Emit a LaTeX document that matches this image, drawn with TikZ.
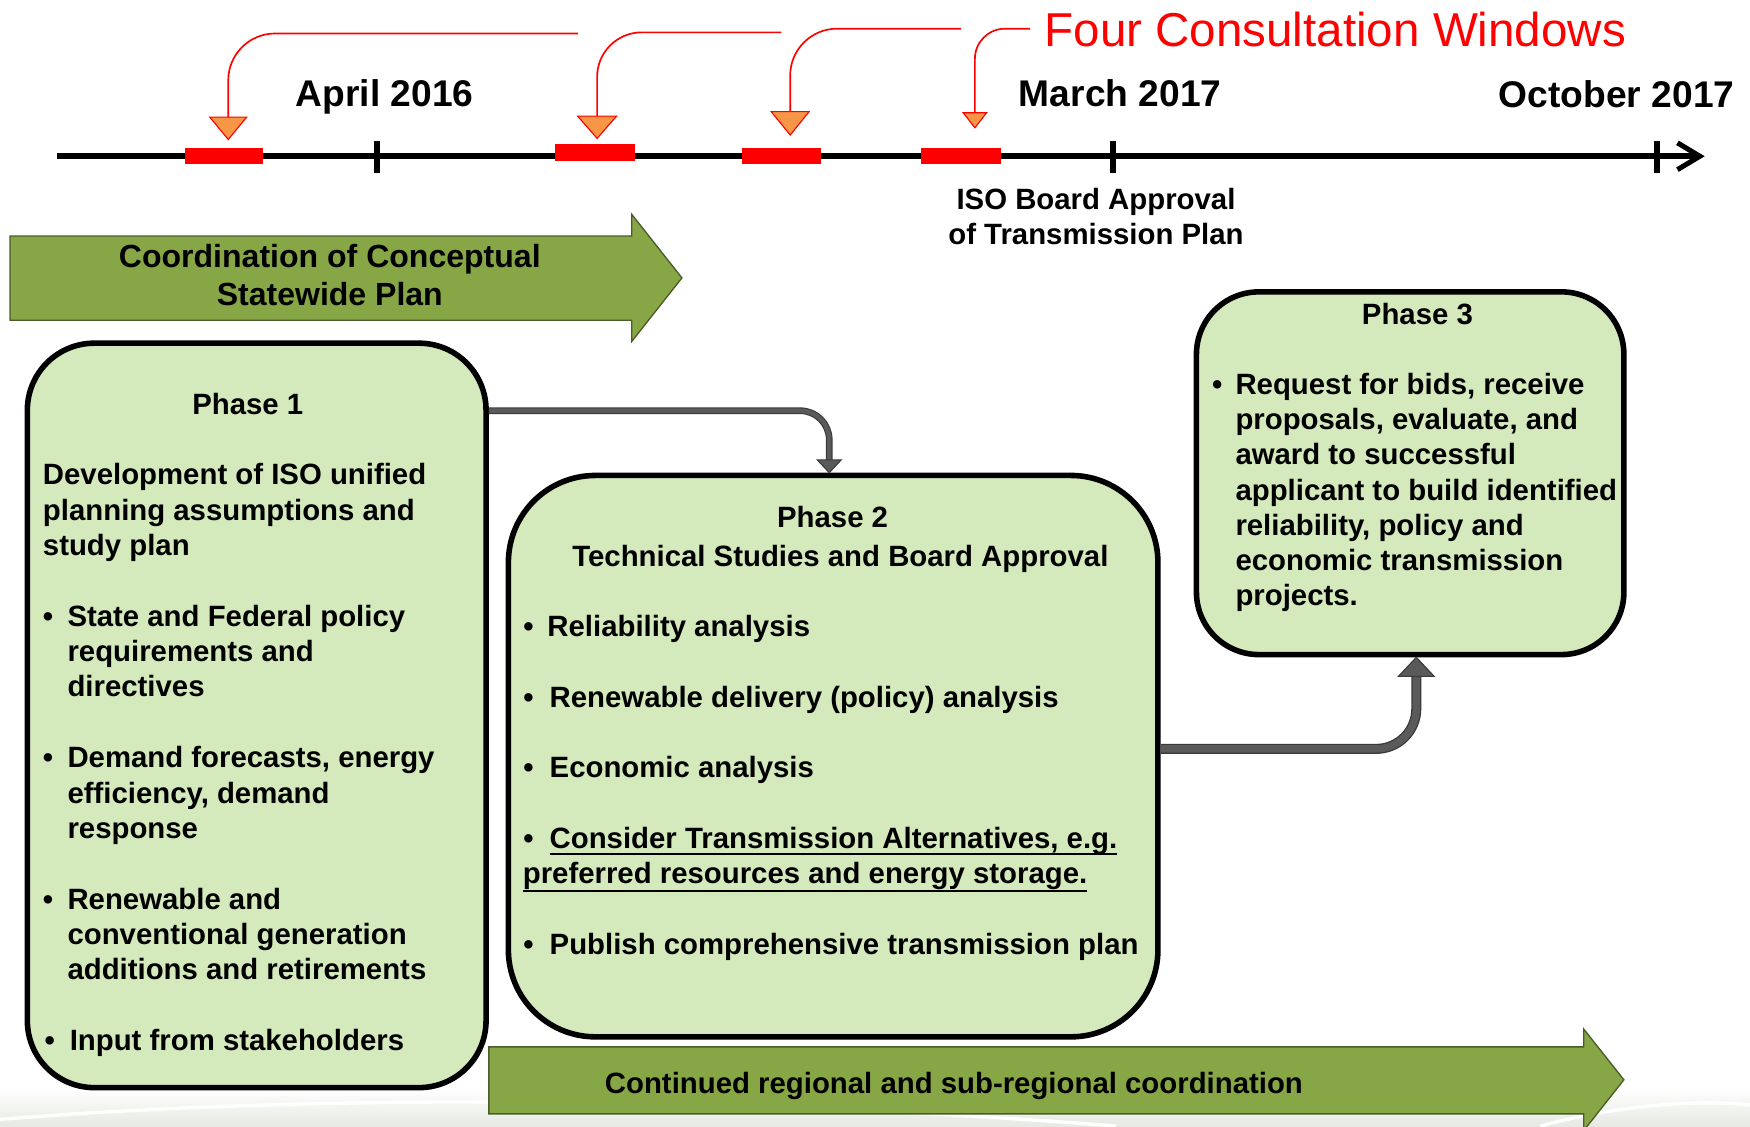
\documentclass[tikz,border=0pt]{standalone}
\usepackage{fontspec}
\setmainfont{Liberation Sans}
\usetikzlibrary{calc}
\definecolor{boxfill}{HTML}{D4EABC}
\definecolor{arrfill}{HTML}{87A646}
\definecolor{arrline}{HTML}{4A5C2A}
\definecolor{conngray}{HTML}{5A5A5A}
\definecolor{connedge}{HTML}{3A3A3A}
\definecolor{triorange}{HTML}{F79646}
\definecolor{bgswoosh}{HTML}{E6EAE2}
\begin{document}
\begin{tikzpicture}[x=1pt,y=-1pt,
  lbl/.style={inner sep=0pt, outer sep=0pt, anchor=base west, font=\fontsize{26.3}{31}\selectfont\bfseries},
  clbl/.style={inner sep=0pt, outer sep=0pt, anchor=base, font=\fontsize{26.3}{31}\selectfont\bfseries},
  datelbl/.style={inner sep=0pt, outer sep=0pt, anchor=base west, font=\fontsize{33.3}{38}\selectfont\bfseries},
  arrlbl/.style={inner sep=0pt, outer sep=0pt, anchor=base, font=\fontsize{28.7}{34}\selectfont\bfseries},
  redlbl/.style={inner sep=0pt, outer sep=0pt, anchor=base west, text=red, font=\fontsize{42.6}{48}\selectfont},
  phasebox/.style={draw=black, line width=5pt, fill=boxfill, inner sep=0pt},
  window/.style={fill=red, draw=none, inner sep=0pt, outer sep=0pt},
  tri/.style={fill=triorange, draw=red, line width=1pt, line join=miter},
  redline/.style={draw=red, line width=1.5pt},
  bigarrow/.style={fill=arrfill, draw=arrline, line width=1.2pt},
  connA/.style={draw=connedge, line width=1pt, double=conngray, double distance=4pt, rounded corners=26pt},
  connB/.style={draw=connedge, line width=1.2pt, double=conngray, double distance=6.6pt, rounded corners=36pt},
  conntip/.style={fill=conngray, draw=connedge, line width=1pt, line join=miter},
  tick/.style={line width=5.5pt},
  uline/.style={line width=2pt},
]
\useasboundingbox (0,0) rectangle (1568,1009);
\clip (0,0) rectangle (1568,1009);

% faint slide background at the bottom
\fill[top color=white, bottom color=bgswoosh] (0,975) rectangle (1568,1009);
\draw[white, line width=3pt] (0,1003) .. controls (300,978) and (700,985) .. (1000,1009);
\draw[white, line width=3pt] (1380,1009) .. controls (1450,990) and (1520,985) .. (1568,990);

% ---------- timeline ----------
\coordinate (tl0) at (51.5,140);
\coordinate (tl1) at (1522,140);
\draw[line width=5pt] (tl0) -- (tl1);
\draw[line width=4.5pt, line join=miter] (1503,128) -- (1523,140) -- (1503,152);
\draw[tick] (338,126) -- (338,155);
\draw[tick] (997.5,126) -- (997.5,155);
\draw[tick] (1484.5,126) -- (1484.5,155);

% consultation windows
\node[window, minimum width=70pt, minimum height=14pt] (w1) at (201,140) {};
\node[window, minimum width=72pt, minimum height=15pt] (w2) at (533,136.5) {};
\node[window, minimum width=71pt, minimum height=14pt] (w3) at (700.5,140) {};
\node[window, minimum width=72pt, minimum height=14pt] (w4) at (861,140) {};

% triangles and red callout lines
\coordinate (t1) at (204.5,105);
\coordinate (t2) at (535,104);
\coordinate (t3) at (708,100);
\coordinate (t4) at (873.5,101);
\coordinate (r1) at (518,30);
\coordinate (r2) at (700,29);
\coordinate (r3) at (861,25.7);
\coordinate (r4) at (923,25.7);
\draw[redline, rounded corners=42pt] (r1) -- (r1 -| t1) -- (t1);
\draw[redline, rounded corners=40pt] (r2) -- (r2 -| t2) -- (t2);
\draw[redline, rounded corners=42pt] (r3) -- (r3 -| t3) -- (t3);
\draw[redline, rounded corners=27pt] (r4) -- (r4 -| t4) -- (t4);
\filldraw[tri] (188,105) -- (221,105) -- (204.5,125) -- cycle;
\filldraw[tri] (517.5,104) -- (552.5,104) -- (535,124) -- cycle;
\filldraw[tri] (691,100) -- (725,100) -- (708,121) -- cycle;
\filldraw[tri] (863,101) -- (884,101) -- (873.5,114.5) -- cycle;

\node[redlbl] (four) at (936,41.5) {Four Consultation Windows};
\node[datelbl] (apr) at (265,95) {April 2016};
\node[datelbl] (mar) at (913,95) {March 2017};
\node[datelbl] (oct) at (1343,96.5) {October 2017};
\node[clbl] (iso1) at (982,187.5) {ISO Board Approval};
\node[clbl] (iso2) at (982,219.5) {of Transmission Plan};

% ---------- green arrows ----------
\filldraw[bigarrow] (9,211.5) -- (566,211.5) -- (566,192) -- (611,249) -- (566,306) -- (566,287) -- (9,287) -- cycle;
\node[arrlbl] (coord1) at (295.5,239.5) {Coordination of Conceptual};
\node[arrlbl] (coord2) at (295.5,273.5) {Statewide Plan};

\filldraw[bigarrow] (438,938) -- (1419,938) -- (1419,922) -- (1455,967.5) -- (1419,1013) -- (1419,998) -- (438,998) -- cycle;
\node[lbl] (cont) at (542,979.5) {Continued regional and sub-regional coordination};

% ---------- phase boxes ----------
\node[phasebox, rounded corners=60pt, minimum width=411pt, minimum height=667pt] (p1) at (230,641) {};
\node[phasebox, rounded corners=78pt, minimum width=582pt, minimum height=503pt] (p2) at (746.5,677.5) {};
\node[phasebox, rounded corners=56pt, minimum width=383pt, minimum height=325pt] (p3) at (1263.5,424) {};

% connectors
\coordinate (k1) at (743,368);
\coordinate (k2) at (1269,671);
\draw[connA] (p1.east |- k1) -- (k1) -- ($(p2.north -| k1)+(0,-11.5)$);
\filldraw[conntip] (p2.north -| k1) -- ++(-10.75,-11.5) -- ++(21.5,0) -- cycle;
\draw[connB] (p2.east |- k2) -- (k2) -- ($(p3.south -| k2)+(0,17)$);
\filldraw[conntip] (p3.south -| k2) -- ++(-16,17) -- ++(32,0) -- cycle;

% Phase 1 text
\node[clbl] (p1h) at (222,371) {Phase 1};
\node[lbl] (p1a) at (38.5,434.5) {Development of ISO unified};
\node[lbl] (p1b) at (38.5,466) {planning assumptions and};
\node[lbl] (p1c) at (38.5,497.5) {study plan};
\node[lbl] (p1d0) at (38.5,561) {•};
\node[lbl] (p1d1) at (60.5,561) {State and Federal policy};
\node[lbl] (p1d2) at (60.5,593) {requirements and};
\node[lbl] (p1d3) at (60.5,624.5) {directives};
\node[lbl] (p1e0) at (38.5,688) {•};
\node[lbl] (p1e1) at (60.5,688) {Demand forecasts, energy};
\node[lbl] (p1e2) at (60.5,719.5) {efficiency, demand};
\node[lbl] (p1e3) at (60.5,751) {response};
\node[lbl] (p1f0) at (38.5,815) {•};
\node[lbl] (p1f1) at (60.5,815) {Renewable and};
\node[lbl] (p1f2) at (60.5,846.5) {conventional generation};
\node[lbl] (p1f3) at (60.5,878) {additions and retirements};
\node[lbl] (p1g0) at (40,941.5) {•};
\node[lbl] (p1g1) at (62.5,941.5) {Input from stakeholders};

% Phase 2 text
\node[clbl] (p2h) at (746,472.5) {Phase 2};
\node[clbl] (p2s) at (753,507.5) {Technical Studies and Board Approval};
\node[lbl] (p2a0) at (469,570) {•};
\node[lbl] (p2a1) at (490.5,570) {Reliability analysis};
\node[lbl] (p2b0) at (469,633.5) {•};
\node[lbl] (p2b1) at (492.5,633.5) {Renewable delivery (policy) analysis};
\node[lbl] (p2c0) at (469,696.5) {•};
\node[lbl] (p2c1) at (492.5,696.5) {Economic analysis};
\node[lbl] (p2d0) at (469,760) {•};
\node[lbl] (p2d1) at (492.5,760) {Consider Transmission Alternatives, e.g.};
\node[lbl] (p2d2) at (468.5,791.5) {preferred resources and energy storage.};
\draw[uline] ($(p2d1.base west)+(0,5.5)$) -- ($(p2d1.base east)+(0,5.5)$);
\draw[uline] ($(p2d2.base west)+(0,6.5)$) -- ($(p2d2.base east)+(0,6.5)$);
\node[lbl] (p2e0) at (469,855) {•};
\node[lbl] (p2e1) at (492.5,855) {Publish comprehensive transmission plan};

% Phase 3 text
\node[clbl] (p3h) at (1270,290.5) {Phase 3};
\node[lbl] (p3a0) at (1086,353.5) {•};
\node[lbl] (p3a1) at (1107,353.5) {Request for bids, receive};
\node[lbl] (p3a2) at (1107,385) {proposals, evaluate, and};
\node[lbl] (p3a3) at (1107,416.5) {award to successful};
\node[lbl] (p3a4) at (1107,448) {applicant to build identified};
\node[lbl] (p3a5) at (1107,479.5) {reliability, policy and};
\node[lbl] (p3a6) at (1107,511) {economic transmission};
\node[lbl] (p3a7) at (1107,542.5) {projects.};
\end{tikzpicture}
\end{document}
